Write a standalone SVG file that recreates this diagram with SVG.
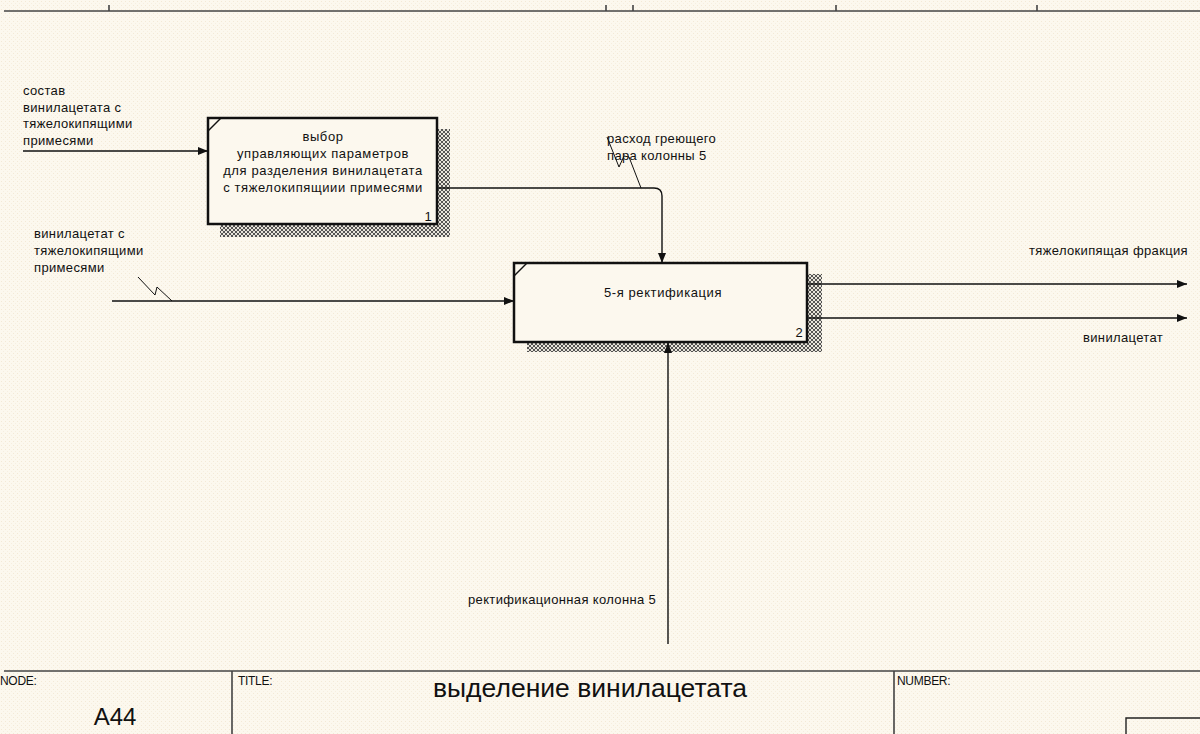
<svg xmlns="http://www.w3.org/2000/svg" width="1200" height="734" viewBox="0 0 1200 734">
<defs>
<pattern id="hatch" width="4" height="4" patternUnits="userSpaceOnUse">
<rect width="4" height="4" fill="#e8e4da"/>
<path d="M0,0 L4,4 M4,0 L0,4" stroke="#444" stroke-width="0.9"/>
</pattern>
<pattern id="bg" width="4" height="4" patternUnits="userSpaceOnUse">
<rect width="4" height="4" fill="#fcf8ee"/>
<rect x="1" y="1" width="1" height="1" fill="#f3e9d6"/>
<rect x="3" y="3" width="1" height="1" fill="#f6eedf"/>
</pattern>
<marker id="arr" viewBox="0 0 10 8" refX="10" refY="4" markerWidth="10" markerHeight="8" markerUnits="userSpaceOnUse" orient="auto">
<path d="M0,0 L10,4 L0,8 Z" fill="#111"/>
</marker>
</defs>
<style>
.lbl{font-family:"Liberation Sans",Arial,sans-serif;font-size:13px;letter-spacing:0.35px;fill:#111}
.btx{font-family:"Liberation Sans",Arial,sans-serif;font-size:13px;letter-spacing:0.6px;fill:#111}
.box{fill:#fcf8ee;stroke:#111;stroke-width:2.5}
.shadow{fill:url(#hatch)}
.conn{fill:none;stroke:#111;stroke-width:1.4}
.sq{fill:none;stroke:#111;stroke-width:1}
.frame{fill:none;stroke:#444;stroke-width:1.6}
.small{font-family:"Liberation Sans",Arial,sans-serif;font-size:12px;fill:#111;letter-spacing:-0.3px}
</style>
<rect width="1200" height="734" fill="url(#bg)"/>
<g id="frame">
<path class="frame" d="M4,11 H1200 M109,5 V11 M606,5 V11 M633,5 V11 M836,5 V11 M1037,5 V11"/>
<path class="frame" d="M4,671 H1200 M232,671 V734 M894,671 V734"/>
<path fill="none" stroke="#222" stroke-width="1.4" d="M1126,734 V718 H1200"/>
<text class="small" x="0" y="685">NODE:</text>
<text class="small" x="238" y="685">TITLE:</text>
<text class="small" x="897" y="685">NUMBER:</text>
<text x="115" y="725" text-anchor="middle" font-family="Liberation Sans,Arial,sans-serif" font-size="24" fill="#111">A44</text>
<text x="590" y="697" text-anchor="middle" font-family="Liberation Sans,Arial,sans-serif" font-size="26.5" fill="#111">выделение винилацетата</text>
</g>
<g id="node1">
<rect class="shadow" x="220" y="129" width="230" height="108"/>
<rect class="box" x="208" y="118" width="229" height="106"/>
<path class="conn" d="M208,131 L221,118"/>
<text class="btx" x="323" y="141" text-anchor="middle">выбор</text>
<text class="btx" x="323" y="158" text-anchor="middle">управляющих параметров</text>
<text class="btx" x="323" y="175" text-anchor="middle">для разделения винилацетата</text>
<text class="btx" x="323" y="192" text-anchor="middle">с тяжелокипящиии примесями</text>
<text class="lbl" x="432" y="221" text-anchor="end">1</text>
</g>
<g id="node2">
<rect class="shadow" x="527" y="274" width="295" height="78"/>
<rect class="box" x="514" y="263" width="293" height="79"/>
<path class="conn" d="M514,276 L527,263"/>
<text class="btx" x="663" y="297" text-anchor="middle">5-я ректификация</text>
<text class="lbl" x="803" y="337" text-anchor="end">2</text>
</g>
<g id="connectors">
<path class="conn" d="M23,151 H208" marker-end="url(#arr)"/>
<path class="conn" d="M112,301 H514" marker-end="url(#arr)"/>
<path class="sq" d="M138,277 L155,295 L157,287 L172,301"/>
<path class="conn" d="M437,188 H654 Q662,188 662,196 V263" marker-end="url(#arr)"/>
<path class="sq" d="M607,137 L619,167 L624,156 L629,157 L641,188"/>
<path class="conn" d="M807,284 H1187" marker-end="url(#arr)"/>
<path class="conn" d="M807,318 H1187" marker-end="url(#arr)"/>
<path class="conn" d="M668,644 V343" marker-end="url(#arr)"/>
<text class="lbl" x="23" y="95">состав</text>
<text class="lbl" x="23" y="112">винилацетата с</text>
<text class="lbl" x="23" y="128">тяжелокипящими</text>
<text class="lbl" x="23" y="145">примесями</text>
<text class="lbl" x="34" y="238">винилацетат с</text>
<text class="lbl" x="34" y="255">тяжелокипящими</text>
<text class="lbl" x="34" y="272">примесями</text>
<text class="lbl" x="607" y="143">расход греющего</text>
<text class="lbl" x="607" y="160">пара колонны 5</text>
<text class="lbl" x="1188" y="255" text-anchor="end">тяжелокипящая фракция</text>
<text class="lbl" x="1083" y="342">винилацетат</text>
<text class="lbl" x="468" y="604">ректификационная колонна 5</text>
</g>
</svg>
